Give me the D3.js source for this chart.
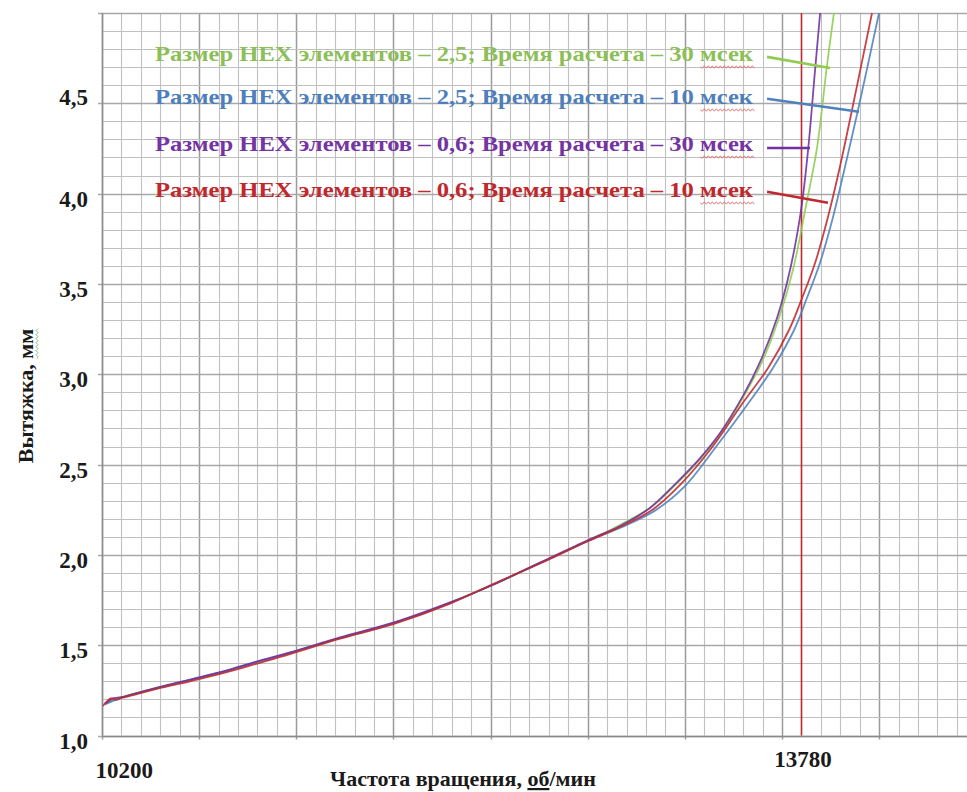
<!DOCTYPE html>
<html><head><meta charset="utf-8">
<script src="https://cdn.jsdelivr.net/npm/d3@7/dist/d3.min.js"></script>
<style>body{margin:0;background:#fff}svg{display:block}</style>
</head><body>
<script>
// ---- data ----
const yTicks = [1.0, 1.5, 2.0, 2.5, 3.0, 3.5, 4.0, 4.5];
const xTickLabels = [10200, 13780];
const markerRpm = 13800;   // red vertical line as drawn (sits on the grid line labelled 13780)
const legendLabels = [
  "Размер HEX элементов – 2,5; Время расчета – 30 мсек",
  "Размер HEX элементов – 2,5; Время расчета – 10 мсек",
  "Размер HEX элементов – 0,6; Время расчета – 30 мсек",
  "Размер HEX элементов – 0,6; Время расчета – 10 мсек"
];
const seriesGreen = [[10215,1.178],[10308,1.214],[10483,1.264],[10653,1.308],[10823,1.353],[10998,1.408],[11167,1.458],[11425,1.541],[11703,1.624],[11991,1.735],[12207,1.834],[12454,1.956],[12702,2.077],[12866,2.165],[13026,2.265],[13155,2.392],[13283,2.536],[13386,2.675],[13504,2.880],[13597,3.068],[13684,3.311],[13756,3.577],[13824,3.937],[13880,4.253],[13931,4.707],[13967,5.0]];
const seriesBlue = [[10215,1.172],[10308,1.212],[10483,1.262],[10653,1.306],[10823,1.351],[10998,1.406],[11167,1.456],[11425,1.539],[11703,1.622],[11991,1.733],[12207,1.832],[12454,1.954],[12702,2.077],[12871,2.152],[13046,2.245],[13196,2.376],[13371,2.614],[13520,2.830],[13653,3.035],[13762,3.245],[13828,3.422],[13895,3.616],[13957,3.848],[14019,4.125],[14091,4.463],[14199,5.0]];
const seriesPurple = [[10215,1.175],[10260,1.207],[10300,1.212],[10483,1.265],[10653,1.310],[10823,1.355],[10998,1.410],[11167,1.460],[11425,1.543],[11703,1.626],[11991,1.737],[12207,1.832],[12454,1.957],[12702,2.082],[12866,2.160],[13020,2.260],[13150,2.392],[13278,2.536],[13381,2.675],[13499,2.880],[13587,3.068],[13674,3.311],[13741,3.577],[13798,3.910],[13834,4.242],[13870,4.685],[13896,5.0]];
const seriesRed = [[10205,1.163],[10245,1.205],[10275,1.198],[10300,1.208],[10330,1.215],[10483,1.258],[10653,1.300],[10823,1.345],[10998,1.398],[11167,1.450],[11425,1.536],[11703,1.618],[11991,1.730],[12207,1.836],[12454,1.952],[12702,2.077],[12866,2.154],[13031,2.248],[13175,2.387],[13345,2.603],[13494,2.835],[13628,3.035],[13736,3.245],[13803,3.422],[13870,3.616],[13931,3.848],[13993,4.125],[14060,4.463],[14163,5.0]];
// legend leader lines: [start, end] in data units
const leaderGreen = [[13623,4.757],[13947,4.696]];
const leaderBlue = [[13623,4.525],[14096,4.453]];
const leaderPurple = [[13623,4.253],[13844,4.253]];
const leaderRed = [[13623,4.010],[13936,3.949]];

// ---- layout ----
const W = 967, H = 792;
const colors = {green:"#8fcd50", blue:"#4f81bd", purple:"#7030a0", red:"#c0282d"};
const textColors = {green:"#8dbf58", blue:"#4f7fbb", purple:"#7434a2", red:"#c0282d"};
const font = "'Liberation Serif','DejaVu Serif','Times New Roman',serif";

const svg = d3.select("body").append("svg").attr("width", W).attr("height", H);
svg.append("rect").attr("width", W).attr("height", H).attr("fill", "#fff");

const x = d3.scaleLinear().domain([10200, 14700]).range([102, 102 + 4500 * 0.1943]);
const y = d3.scaleLinear().domain([1, 5]).range([735.5, 13]);
const snap = v => Math.round(v) + 0.5;

// grid
const g = svg.append("g");
const minorX = d3.range(10200, 14701, 100);
const minorY = d3.range(10, 51).map(d => d / 10);
const isMajX = d => (d - 10200) % 500 === 0;
const isMajY = d => Math.round(d * 10) % 5 === 0;
g.selectAll("line.vx").data(minorX).join("line").attr("class", "vx")
  .attr("x1", d => snap(x(d))).attr("x2", d => snap(x(d)))
  .attr("y1", y(5)).attr("y2", d => isMajX(d) ? y(1) + 4 : y(1))
  .attr("stroke", d => isMajX(d) ? "#9a9a9a" : "#c0c0c0")
  .attr("stroke-width", d => isMajX(d) ? 1.5 : 1.1);
g.selectAll("line.hy").data(minorY).join("line").attr("class", "hy")
  .attr("x1", d => isMajY(d) ? x(10200) - 4 : x(10200)).attr("x2", W)
  .attr("y1", d => snap(y(d))).attr("y2", d => snap(y(d)))
  .attr("stroke", d => isMajY(d) ? "#a8a8a8" : "#c0c0c0")
  .attr("stroke-width", d => isMajY(d) ? 1.3 : 1.1);
// axis lines
g.append("line").attr("x1", snap(x(10200))).attr("x2", snap(x(10200))).attr("y1", y(5)).attr("y2", y(1))
  .attr("stroke", "#8a8a8a").attr("stroke-width", 1.4);
g.append("line").attr("x1", x(10200)).attr("x2", W).attr("y1", snap(y(1))).attr("y2", snap(y(1)))
  .attr("stroke", "#8a8a8a").attr("stroke-width", 1.4);

// y axis labels
const yAxis = d3.axisLeft(y).tickValues(yTicks).tickSize(0).tickPadding(14)
  .tickFormat(d => d3.format(".1f")(d).replace(".", ","));
const ya = svg.append("g").attr("transform", `translate(${x(10200)},0)`).call(yAxis);
ya.select(".domain").remove();
ya.selectAll("text").attr("font-family", font).attr("font-weight", "bold")
  .attr("font-size", 23).attr("fill", "#1a1a1a").attr("dy", d => d === 4.5 ? "0.05em" : "0.55em");

// x axis labels
const xAxis = d3.axisBottom(x).tickValues(xTickLabels).tickSize(0).tickFormat(d3.format("d"));
const xa = svg.append("g").attr("transform", `translate(0,${y(1)})`).call(xAxis);
xa.select(".domain").remove();
xa.selectAll("text").attr("font-family", font).attr("font-weight", "bold")
  .attr("font-size", 23).attr("fill", "#1a1a1a")
  .attr("text-anchor", d => d === 10200 ? "start" : "middle")
  .attr("dx", d => d === 10200 ? -7 : 5)
  .attr("dy", d => d === 10200 ? 42 : 31).attr("y", 0);

// red marker line
svg.append("line").attr("x1", snap(x(markerRpm))).attr("x2", snap(x(markerRpm)))
  .attr("y1", y(5)).attr("y2", y(1)).attr("stroke", colors.red).attr("stroke-width", 1.6);

// curves
svg.append("clipPath").attr("id", "clip").append("rect")
  .attr("x", x(10200)).attr("y", y(5)).attr("width", W - x(10200)).attr("height", y(1) - y(5));
const line = d3.line().x(d => x(d[0])).y(d => y(d[1])).curve(d3.curveCatmullRom.alpha(0.5));
const series = [
  {key: "green", data: seriesGreen},
  {key: "blue", data: seriesBlue},
  {key: "purple", data: seriesPurple},
  {key: "red", data: seriesRed}
];
svg.append("g").attr("clip-path", "url(#clip)").selectAll("path").data(series).join("path")
  .attr("d", d => line(d.data)).attr("fill", "none")
  .attr("stroke", d => colors[d.key]).attr("stroke-width", 1.8).attr("stroke-opacity", 0.88);

// legend texts
const legendOrder = ["green", "blue", "purple", "red"];
const baselines = [61, 104, 151, 197];
const leaders = [leaderGreen, leaderBlue, leaderPurple, leaderRed];
legendOrder.forEach((k, i) => {
  const t = svg.append("text").attr("x", 155).attr("y", baselines[i])
    .attr("font-family", font).attr("font-weight", "bold").attr("font-size", 22)
    .attr("fill", textColors[k]).attr("textLength", 598).attr("lengthAdjust", "spacingAndGlyphs")
    .text(legendLabels[i]);
  const bb = t.node().getBBox();
  const x1 = bb.x + bb.width - 53, x2 = bb.x + bb.width;
  // red wavy spell-check underline under the last word
  let p = `M${x1},${baselines[i] + 6}`;
  for (let xx = x1, s = 1; xx < x2; xx += 2, s = -s) p += `L${xx + 2},${baselines[i] + 6 + s * 1.2}`;
  svg.append("path").attr("d", p).attr("fill", "none").attr("stroke", "#e06a6a").attr("stroke-width", 0.9);
  svg.append("line")
    .attr("x1", x(leaders[i][0][0])).attr("y1", y(leaders[i][0][1]))
    .attr("x2", x(leaders[i][1][0])).attr("y2", y(leaders[i][1][1]))
    .attr("stroke", colors[k]).attr("stroke-width", 2.6);
});

// axis titles
const xt = svg.append("text").attr("x", 330).attr("y", 786)
  .attr("font-family", font).attr("font-weight", "bold").attr("font-size", 22).attr("fill", "#1a1a1a");
xt.append("tspan").text("Частота вращения, ");
xt.append("tspan").attr("text-decoration", "underline").text("об");
xt.append("tspan").text("/мин");

const yt = svg.append("g").attr("transform", "translate(33,396) rotate(-90)");
const ytt = yt.append("text").attr("text-anchor", "middle")
  .attr("font-family", font).attr("font-weight", "bold").attr("font-size", 22).attr("fill", "#1a1a1a");
ytt.append("tspan").text("Вытяжка, ");
ytt.append("tspan").text("мм");
const ybb = ytt.node().getBBox();
const mmW = ytt.node().getSubStringLength(9, 2);
let wp = `M${ybb.x + ybb.width - mmW},4`;
for (let xx = ybb.x + ybb.width - mmW, s = 1; xx < ybb.x + ybb.width; xx += 2, s = -s) wp += `L${xx + 2},${4 + s * 1}`;
yt.append("path").attr("d", wp).attr("fill", "none").attr("stroke", "#6fbf6f").attr("stroke-width", 0.9);
</script>
</body></html>
